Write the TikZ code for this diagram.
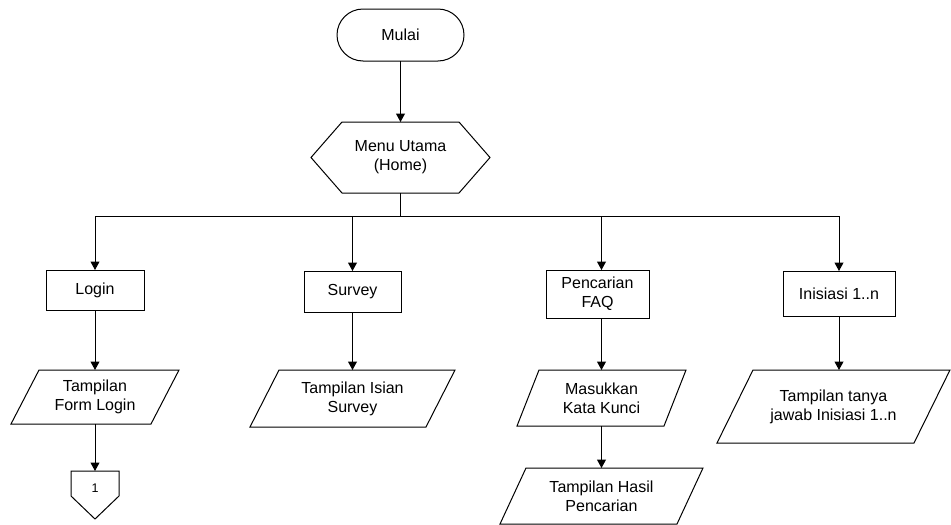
\documentclass[tikz,border=0pt]{standalone}
\usepackage{fontspec}
\setmainfont{Liberation Sans}
\usetikzlibrary{arrows.meta,calc}

% parallelogram around a plain node: #1 node name, #2 horizontal slant
\newcommand\ioshape[2]{%
  \draw[shape line] (#1.south west) -- ($(#1.north west)+(#2,0)$)
    -- (#1.north east) -- ($(#1.south east)-(#2,0)$) -- cycle;}
% hexagon (preparation) around a plain node: #1 node name, #2 point depth
\newcommand\hexshape[2]{%
  \draw[shape line] (#1.west) -- ($(#1.north west)+(#2,0)$)
    -- ($(#1.north east)-(#2,0)$) -- (#1.east)
    -- ($(#1.south east)-(#2,0)$) -- ($(#1.south west)+(#2,0)$) -- cycle;}
% off-page connector: #1 node name, #2 height of the square part
\newcommand\offpage[2]{%
  \draw[shape line] (#1.north west) -- (#1.north east)
    -- ($(#1.north east)-(0,#2)$) -- (#1.south)
    -- ($(#1.north west)-(0,#2)$) -- cycle;}

\tikzset{
  x=1pt, y=1pt,
  base/.style={font=\fontsize{16}{19}\selectfont, align=center,
               inner sep=0pt, outer sep=0pt, text=black},
  shape line/.style={draw=black, line width=1pt, line join=miter},
  terminal/.style={base, shape line, rounded corners=26pt},
  procbox/.style={base, shape line},
  plain/.style={base},
  arr/.style={draw=black, line width=1pt,
              -{Triangle[length=8.5pt,width=9pt]}},
  link/.style={draw=black, line width=1pt}
}

\begin{document}
\begin{tikzpicture}
\useasboundingbox (0,0) rectangle (951,-525);

% start
\node[terminal, minimum width=127, minimum height=52] (mulai) at (400.5,-35) {Mulai};

% main menu
\node[plain, minimum width=179, minimum height=71] (home) at (400.5,-157.5) {Menu Utama\\(Home)};
\hexshape{home}{31}

% branch bar
\coordinate (bar) at (0,-216);

% processes
\node[procbox, minimum width=98, minimum height=40] (login) at (95,-290) {Login};
\node[procbox, minimum width=97, minimum height=41] (survey) at (352.5,-291.5) {Survey};
\node[procbox, minimum width=103, minimum height=48] (faq) at (597.5,-294) {Pencarian\\FAQ};
\node[procbox, minimum width=112, minimum height=45] (inisiasi) at (839,-293.5) {Inisiasi 1..n};

% input / output
\node[plain, minimum width=168, minimum height=54] (formlogin) at (95,-397) {Tampilan\\Form Login};
\ioshape{formlogin}{28}
\node[plain, minimum width=205, minimum height=57] (isian) at (352.5,-398.5) {Tampilan Isian\\Survey};
\ioshape{isian}{29}
\node[plain, minimum width=169, minimum height=56] (kunci) at (601.5,-398) {Masukkan\\Kata Kunci};
\ioshape{kunci}{22}
\node[plain, minimum width=203, minimum height=56] (hasil) at (601.5,-496) {Tampilan Hasil\\Pencarian};
\ioshape{hasil}{26}
\node[plain, minimum width=233, minimum height=73] (tanya) at (833.5,-406.5) {Tampilan tanya\\jawab Inisiasi 1..n};
\ioshape{tanya}{36}

% off-page connector
\node[plain, minimum width=48, minimum height=48] (conn) at (95,-495) {};
\offpage{conn}{25}
\node[plain, font=\fontsize{12.5}{14}\selectfont] (connlabel) at (95,-488) {1};

% connectors
\draw[arr] (mulai.south -| home) -- (home.north);
\draw[link] (home.south) -- (home |- bar);
\draw[link] (login.north |- bar) -- (inisiasi.north |- bar);
\draw[arr] (login.north |- bar) -- (login.north);
\draw[arr] (survey.north |- bar) -- (survey.north);
\draw[arr] (kunci.north |- bar) -- (kunci.north |- faq.north);
\draw[arr] (inisiasi.north |- bar) -- (inisiasi.north);

\draw[arr] (login.south) -- (login.south |- formlogin.north);
\draw[arr] (formlogin.south) -- (conn.north);
\draw[arr] (survey.south) -- (survey.south |- isian.north);
\draw[arr] (kunci.north |- faq.south) -- (kunci.north);
\draw[arr] (kunci.south) -- (hasil.north);
\draw[arr] (inisiasi.south) -- (inisiasi.south |- tanya.north);
\end{tikzpicture}
\end{document}
